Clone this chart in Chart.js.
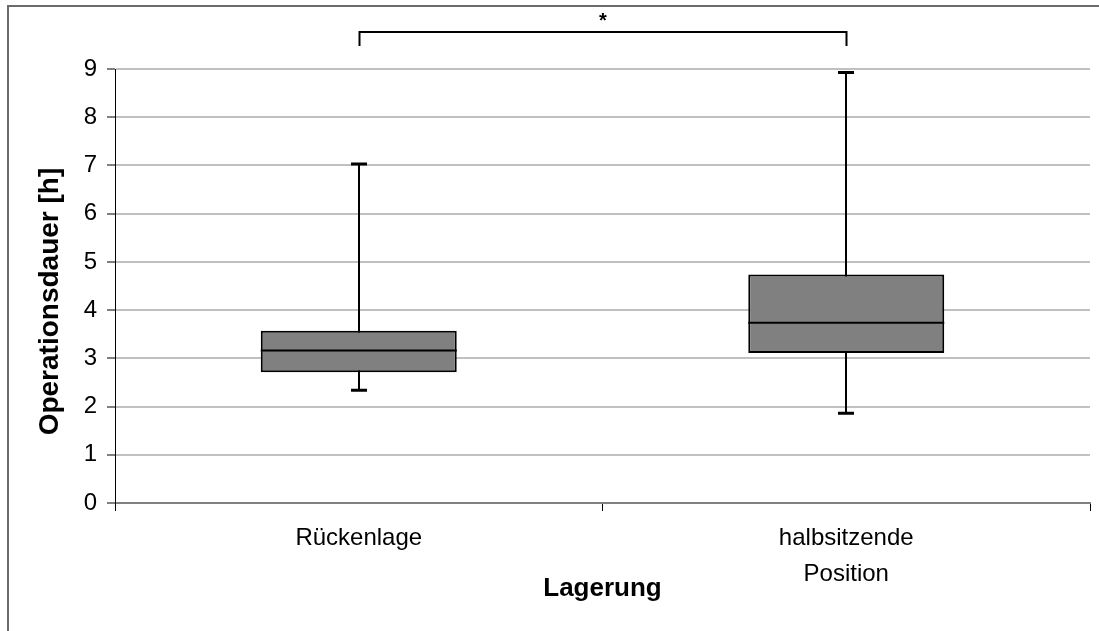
<!DOCTYPE html>
<html>
<head>
<meta charset="utf-8">
<script src="https://cdn.jsdelivr.net/npm/chart.js@4.4.1/dist/chart.umd.min.js"></script>
<style>
  html, body { margin: 0; padding: 0; background: #fff; }
</style>
</head>
<body>
<canvas id="chart" width="1099" height="631"></canvas>
<script>
// Boxplot Operationsdauer nach Lagerung
const categories = ['Rückenlage', ['halbsitzende', 'Position']];
const whiskerLow = [2.34, 1.86];
const quartile1 = [2.71, 3.11];
const median = [3.16, 3.74];
const quartile3 = [3.57, 4.74];
const whiskerHigh = [7.03, 8.93];
const yTicks = [0, 1, 2, 3, 4, 5, 6, 7, 8, 9];
const significance = '*';

const FONT = "'Liberation Sans', Arial, sans-serif";

// Rahmen um die ganze Grafik
const framePlugin = {
    id: 'frame',
    beforeDraw(chart) {
        const ctx = chart.ctx;
        ctx.save();
        ctx.fillStyle = '#fff';
        ctx.fillRect(0, 0, chart.width, chart.height);
        ctx.strokeStyle = '#6b6b6b';
        ctx.lineWidth = 2;
        ctx.strokeRect(8, 6, chart.width + 50, chart.height + 50);
        ctx.restore();
    }
};

// Whisker und Median ueber die Skalen zeichnen
const boxPlugin = {
    id: 'boxWhiskers',
    beforeDatasetsDraw(chart) {
        const ctx = chart.ctx, y = chart.scales.y;
        const meta = chart.getDatasetMeta(0);
        ctx.save();
        ctx.strokeStyle = '#000';
        meta.data.forEach((bar, i) => {
            const x = Math.round(bar.x);
            const lo = y.getPixelForValue(whiskerLow[i]);
            const hi = y.getPixelForValue(whiskerHigh[i]);
            ctx.lineWidth = 2;
            ctx.beginPath();
            ctx.moveTo(x, lo); ctx.lineTo(x, hi);
            ctx.stroke();
            ctx.lineWidth = 3;
            ctx.beginPath();
            ctx.moveTo(x - 8, lo); ctx.lineTo(x + 8, lo);
            ctx.moveTo(x - 8, hi); ctx.lineTo(x + 8, hi);
            ctx.stroke();
        });
        ctx.restore();
    },
    afterDatasetsDraw(chart) {
        const ctx = chart.ctx, y = chart.scales.y;
        const meta = chart.getDatasetMeta(0);
        ctx.save();
        ctx.strokeStyle = '#000';
        ctx.lineWidth = 2;
        meta.data.forEach((bar, i) => {
            const m = y.getPixelForValue(median[i]);
            ctx.beginPath();
            ctx.moveTo(bar.x - bar.width / 2, m);
            ctx.lineTo(bar.x + bar.width / 2, m);
            ctx.stroke();
        });
        ctx.restore();
    },
    afterDraw(chart) {
        // Signifikanzklammer
        const ctx = chart.ctx, xs = chart.scales.x;
        const x1 = Math.round(xs.getPixelForValue(0)) + 0.5;
        const x2 = Math.round(xs.getPixelForValue(1)) + 0.5;
        const top = chart.chartArea.top - 37;
        ctx.save();
        ctx.strokeStyle = '#000';
        ctx.lineWidth = 2;
        ctx.beginPath();
        ctx.moveTo(x1, top + 14); ctx.lineTo(x1, top); ctx.lineTo(x2, top); ctx.lineTo(x2, top + 14);
        ctx.stroke();
        ctx.fillStyle = '#000';
        ctx.font = 'bold 20px ' + FONT;
        ctx.textAlign = 'center';
        ctx.textBaseline = 'middle';
        ctx.fillText(significance, (x1 + x2) / 2, top - 11);
        ctx.restore();
    }
};

new Chart(document.getElementById('chart'), {
    type: 'bar',
    data: {
        labels: categories,
        datasets: [{
            data: quartile1.map((q, i) => [q, quartile3[i]]),
            backgroundColor: '#808080',
            borderColor: '#000',
            borderWidth: 2,
            borderSkipped: false,
            categoryPercentage: 1,
            barPercentage: 0.402
        }]
    },
    options: {
        responsive: false,
        animation: false,
        layout: { padding: { top: 69, right: 9, left: 0, bottom: 0 } },
        plugins: { legend: { display: false }, tooltip: { enabled: false } },
        scales: {
            x: {
                afterFit: s => { s.height = 128; },
                grid: { offset: true, drawOnChartArea: false, tickLength: 8, tickColor: '#000', lineWidth: 1 },
                border: { color: '#808080', width: 2 },
                ticks: { color: '#000', padding: 9, maxRotation: 0, font: { family: FONT, size: 24, lineHeight: 1.5 } },
                title: { display: true, text: 'Lagerung', color: '#000', padding: { bottom: 27 }, font: { family: FONT, size: 26, weight: 'bold', lineHeight: 1.2 } }
            },
            y: {
                min: 0, max: 9,
                afterFit: s => { s.width = 115; },
                afterBuildTicks: s => { s.ticks = yTicks.map(v => ({ value: v })); },
                grid: { color: '#c0c0c0', lineWidth: 2, tickLength: 8, tickColor: '#808080' },
                border: { color: '#000', width: 1 },
                ticks: { color: '#000', padding: 10, font: { family: FONT, size: 24 } },
                title: { display: true, text: 'Operationsdauer [h]\u00a0\u00a0\u00a0\u00a0', color: '#000', padding: { top: 33 }, font: { family: FONT, size: 28, weight: 'bold', lineHeight: 1.2 } }
            }
        }
    },
    plugins: [framePlugin, boxPlugin]
});
</script>
</body>
</html>
